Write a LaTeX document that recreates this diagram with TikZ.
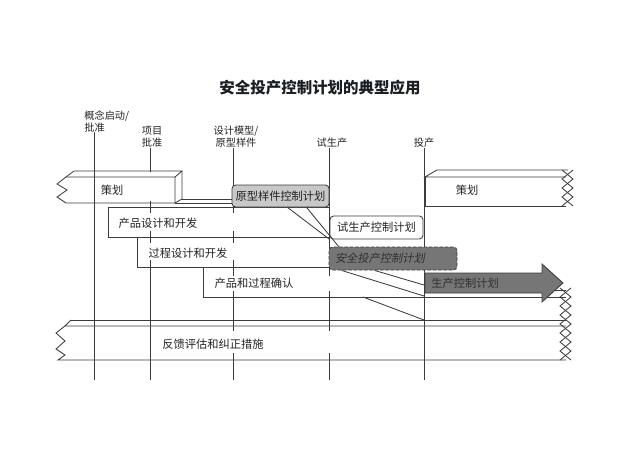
\documentclass[tikz,border=0pt]{standalone}
\usepackage{fontspec}
\usepackage{tikz}
\usetikzlibrary{calc}
\setmainfont{Noto Sans CJK SC}
\newfontfamily\cjkslant[FakeSlant=0.2]{Noto Sans CJK SC}
\definecolor{linegray}{RGB}{60,60,60}
\definecolor{ink}{RGB}{35,35,35}
\definecolor{titleink}{RGB}{25,30,35}
\definecolor{lightbox}{RGB}{200,200,200}
\definecolor{darkbox}{RGB}{118,118,118}
\definecolor{safeink}{RGB}{50,50,50}

\begin{document}
\begin{tikzpicture}[
x=0.5mm, y=-0.5mm,
line width=1.2pt, color=linegray,
every node/.style={text=ink, inner sep=0pt},
lbl/.style={font=\fontsize{14.5}{17}\selectfont, align=center},
bandtext/.style={font=\fontsize{16}{18}\selectfont},
planbox/.style={draw=linegray, rounded corners=1.8mm, font=\fontsize{16}{18}\selectfont},
mask/.style={fill=white}
]
\useasboundingbox (0,0) rectangle (640,453);

\node[font=\fontsize{22}{26}\selectfont\bfseries, text=titleink] (title) at (320,88) {安全投产控制计划的典型应用};

% milestones
\node[lbl, align=left, anchor=north west] (lbConcept) at (84,110) {概念启动/\\批准};
\node[lbl] (lbProject) at (152,137) {项目\\批准};
\node[lbl] (lbDesign) at (236,137) {设计模型/\\原型样件};
\node[lbl] (lbTrial) at (332,143) {试生产};
\node[lbl] (lbLaunch) at (424,143) {投产};

\coordinate (m1) at (94,380);
\coordinate (m2) at (150,380);
\coordinate (m3) at (233,380);
\coordinate (m4) at (329,380);
\coordinate (m5) at (424,380);

\draw (lbConcept.south -| m1) -- (m1);
\draw (lbProject.south -| m2) -- (m2);
\draw (lbDesign.south -| m3) -- (m3);
\draw (lbTrial.south -| m4) -- (m4);
\draw (lbLaunch.south -| m5) -- (m5);

\fill[mask] (100,172) rectangle (174,201);
\fill[mask] (110,213) rectangle (320,231);
\fill[mask] (140,243) rectangle (325,260);
\fill[mask] (206,276) rectangle (420,291);
\fill[mask] (200,331) rectangle (400,353);

% planning bar, left
\draw (66,177) -- (57,184) -- (67,190) -- (57,197) -- (66,203) -- (175,203) -- (175,177) -- cycle;
\draw (66,177) -- (74,171) -- (182,171) -- (175,177);
\draw (182,171) -- (182,199) -- (175,203);
\draw (182,199) -- (232,199);
\draw (175,203) -- (232,203);

% planning bar, right
\draw (566,177) -- (425,177) -- (437,170) -- (568,170);
\draw (425,177) -- (425,206) -- (566,206);
\draw (573,170) -- (562,179) -- (573,188) -- (562,197) -- (573,206);
\draw (562,170) -- (573,179) -- (562,188) -- (573,197) -- (562,206);

% phase bands
\draw (108,207) rectangle (329,237);
\draw (137,237) rectangle (329,267);
\draw (329,267) -- (203,267) -- (203,297) -- (566,297);
\draw (424,290) -- (566,290);

% feedback bar
\draw (71,320) -- (566,320);
\draw (71,320) -- (65,326) -- (566,326);
\draw (65,326) -- (56,333) -- (65,341) -- (56,349) -- (65,355) -- (58,360) -- (566,360);
\draw (571,288) -- (560,297) -- (571,306) -- (560,315) -- (571,324) -- (560,333) -- (571,342) -- (560,351) -- (571,360);
\draw (560,288) -- (571,297) -- (560,306) -- (571,315) -- (560,324) -- (571,333) -- (560,342) -- (571,351) -- (560,360);

% plans
\node[planbox, fill=lightbox, minimum width=48.5mm, minimum height=11mm] (protoPlan) at (280.5,196) {原型样件控制计划};
\node[planbox, fill=white, minimum width=46.5mm, minimum height=11.5mm] (trialPlan) at (376.5,227.5) {试生产控制计划};

\coordinate (launchA) at (424,296);
\coordinate (launchB) at (424,285);
\coordinate (fbJoin) at (424,320);

\draw ($(protoPlan.south west)+(56,0)$) -- (trialPlan.south west);
\draw ($(protoPlan.south west)+(75,0)$) -- (339,247);

\node[planbox, fill=darkbox, dash pattern=on 5pt off 2.5pt, text width=58mm, inner xsep=3mm, minimum height=11.5mm, font=\cjkslant\fontsize{16}{18}\selectfont, text=safeink] (safePlan) at (393,258.5) {安全投产控制计划};

\draw ($(safePlan.south west)+(13,0)$) -- (launchA);
\draw ($(safePlan.south west)+(46,0)$) -- (launchB);
\draw (363,297) -- (fbJoin);

\draw[fill=darkbox] (425,273) -- (542,273) -- (542,264) -- (563,283) -- (542,302) -- (542,293) -- (425,293) -- cycle;
\node[bandtext, anchor=west, text=safeink] (prodPlan) at (431,283) {生产控制计划};

% band labels
\node[bandtext] (planL) at (112,190) {策划};
\node[bandtext] (planR) at (467,190) {策划};
\node[bandtext] (prodDev) at (158,223) {产品设计和开发};
\node[bandtext] (procDev) at (188,253) {过程设计和开发};
\node[bandtext] (validation) at (254,283) {产品和过程确认};
\node[bandtext] (feedback) at (213,344) {反馈评估和纠正措施};

\end{tikzpicture}
\end{document}
